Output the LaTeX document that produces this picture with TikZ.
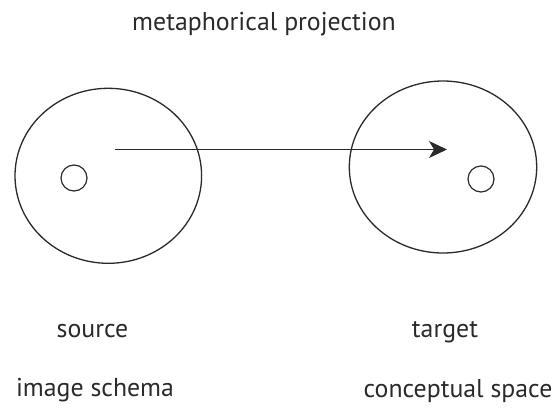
\documentclass[tikz,border=0pt]{standalone}
\usepackage{fontspec}
\setmainfont{PT Sans}
\usetikzlibrary{arrows.meta}
\definecolor{ink}{HTML}{2A2A2A}
\tikzset{
  zonering/.style={draw=ink, line width=1.3pt},
  dotring/.style={draw=ink, line width=1.2pt, circle, minimum size=26pt, inner sep=0pt},
  lbl/.style={text=ink, inner sep=0pt, anchor=base, font=\fontsize{25.8}{30}\selectfont},
  proj/.style={draw=ink, line width=1.5pt, -{Stealth[length=18pt, width=17pt, inset=5pt]}}
}
\begin{document}
\begin{tikzpicture}[x=1pt, y=-1pt]
\useasboundingbox (0,0) rectangle (554,407);
\draw[zonering] (108.3,175.8) ellipse [x radius=93.3, y radius=87.5];
\draw[zonering] (443,167) ellipse [x radius=93.7, y radius=86];
\node[dotring] (s) at (74,178) {};
\node[dotring] (t) at (481,179) {};
\coordinate (a0) at (115,149.5);
\coordinate (a1) at (447,149.5);
\draw[proj] (a0) -- (a1);
\node[lbl] (title) at (264,30.7) {metaphorical projection};
\node[lbl] (src) at (92.5,337) {source};
\node[lbl] (tgt) at (445,337) {target};
\node[lbl] (is) at (95,396) {image schema};
\node[lbl] (cs) at (458,397) {conceptual space};
\end{tikzpicture}
\end{document}
